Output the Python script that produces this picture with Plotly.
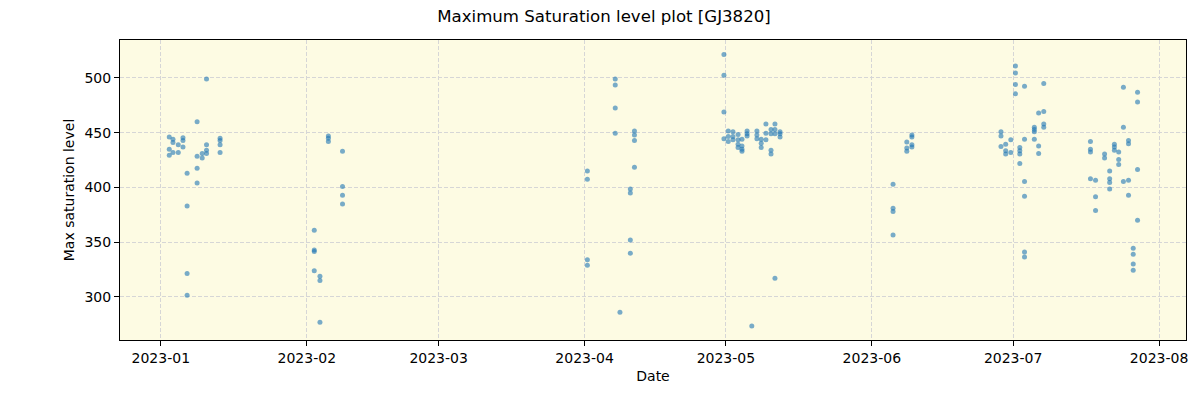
import plotly.graph_objects as go

dates = (
    ["2023-01-10 17:00", "2023-01-08 17:00", "2023-01-02 19:00", "2023-01-03 14:00", "2023-01-03 14:00",
     "2023-01-05 17:00", "2023-01-05 17:00", "2023-01-04 17:00", "2023-01-05 17:00", "2023-01-02 19:00",
     "2023-01-03 14:00", "2023-01-04 17:00", "2023-01-02 19:00", "2023-01-08 17:00", "2023-01-09 19:00",
     "2023-01-09 19:00", "2023-01-10 17:00", "2023-01-10 17:00", "2023-01-10 17:00", "2023-01-13 14:00",
     "2023-01-13 14:00", "2023-01-13 14:00", "2023-01-13 14:00", "2023-01-08 17:00", "2023-01-06 14:00",
     "2023-01-08 17:00", "2023-01-06 14:00", "2023-01-06 14:00", "2023-01-06 14:00"]
    + ["2023-02-08 14:00", "2023-02-08 14:00", "2023-02-08 14:00", "2023-02-08 14:00", "2023-02-02 14:00",
       "2023-02-02 14:00", "2023-02-02 14:00", "2023-02-02 14:00", "2023-02-03 19:00", "2023-02-03 19:00",
       "2023-02-03 19:00", "2023-02-05 14:00", "2023-02-05 14:00", "2023-02-05 14:00"]
    + ["2023-04-01 14:00", "2023-04-01 14:00", "2023-04-01 14:00", "2023-04-01 14:00", "2023-04-07 12:00",
       "2023-04-07 12:00", "2023-04-07 12:00", "2023-04-07 12:00", "2023-04-08 12:00", "2023-04-10 17:00",
       "2023-04-10 17:00", "2023-04-10 17:00", "2023-04-10 17:00", "2023-04-11 14:00", "2023-04-11 14:00",
       "2023-04-11 14:00", "2023-04-11 14:00"]
    + ["2023-04-30 14:00", "2023-04-30 14:00", "2023-04-30 14:00", "2023-04-30 14:00", "2023-05-01 12:00",
       "2023-05-01 12:00", "2023-05-01 12:00", "2023-05-02 12:00", "2023-05-02 12:00", "2023-05-02 12:00",
       "2023-05-03 14:00", "2023-05-03 14:00", "2023-05-03 14:00", "2023-05-03 14:00", "2023-05-04 10:00",
       "2023-05-04 10:00", "2023-05-04 10:00", "2023-05-04 10:00", "2023-05-05 12:00", "2023-05-05 12:00",
       "2023-05-05 12:00", "2023-05-07 14:00", "2023-05-07 14:00", "2023-05-07 14:00", "2023-05-08 12:00",
       "2023-05-08 12:00", "2023-05-08 12:00", "2023-05-09 12:00", "2023-05-09 12:00", "2023-05-09 12:00",
       "2023-05-10 14:00", "2023-05-10 14:00", "2023-05-10 14:00", "2023-05-10 14:00", "2023-05-11 10:00",
       "2023-05-11 10:00", "2023-05-11 10:00", "2023-05-11 10:00", "2023-05-12 12:00", "2023-05-12 12:00",
       "2023-05-12 12:00", "2023-05-06 12:00"]
    + ["2023-06-05 12:00", "2023-06-05 12:00", "2023-06-05 12:00", "2023-06-05 12:00", "2023-06-08 10:00",
       "2023-06-08 10:00", "2023-06-08 10:00", "2023-06-09 12:00", "2023-06-09 12:00", "2023-06-09 12:00",
       "2023-06-09 12:00"]
    + ["2023-06-28 10:00", "2023-06-28 10:00", "2023-06-28 10:00", "2023-06-29 10:00", "2023-06-29 10:00",
       "2023-06-29 10:00", "2023-06-30 12:00", "2023-06-30 12:00", "2023-07-01 12:00", "2023-07-01 12:00",
       "2023-07-01 12:00", "2023-07-01 12:00", "2023-07-02 10:00", "2023-07-02 10:00", "2023-07-02 10:00",
       "2023-07-02 10:00", "2023-07-03 10:00", "2023-07-03 10:00", "2023-07-03 10:00", "2023-07-03 10:00",
       "2023-07-03 10:00", "2023-07-03 10:00", "2023-07-05 12:00", "2023-07-05 12:00", "2023-07-05 12:00",
       "2023-07-05 12:00", "2023-07-06 10:00", "2023-07-06 10:00", "2023-07-06 10:00", "2023-07-07 12:00",
       "2023-07-07 12:00", "2023-07-07 12:00", "2023-07-07 12:00"]
    + ["2023-07-17 10:00", "2023-07-17 10:00", "2023-07-17 10:00", "2023-07-17 10:00", "2023-07-18 12:00",
       "2023-07-18 12:00", "2023-07-18 12:00", "2023-07-20 10:00", "2023-07-20 10:00", "2023-07-21 12:00",
       "2023-07-21 12:00", "2023-07-21 12:00", "2023-07-21 12:00", "2023-07-22 12:00", "2023-07-22 12:00",
       "2023-07-22 12:00", "2023-07-23 10:00", "2023-07-23 10:00", "2023-07-23 10:00", "2023-07-24 10:00",
       "2023-07-24 10:00", "2023-07-24 10:00", "2023-07-25 12:00", "2023-07-25 12:00", "2023-07-25 12:00",
       "2023-07-25 12:00", "2023-07-26 12:00", "2023-07-26 12:00", "2023-07-26 12:00", "2023-07-26 12:00",
       "2023-07-27 10:00", "2023-07-27 10:00", "2023-07-27 10:00", "2023-07-27 10:00"]
)

levels = (
    [499, 460, 446, 444, 441,
     445.5, 443, 439, 437, 435,
     432, 432, 429.5, 428.5, 431,
     427, 439, 434, 431, 445,
     443, 439, 432, 417.5, 413,
     404, 383, 321.5, 301.5]
    + [433, 401, 393, 385, 361,
       343, 341.5, 324, 319, 315,
       277, 447, 445, 442]
    + [415, 407.5, 334, 329, 499,
       493.5, 472.5, 449.5, 286, 398.5,
       395, 352, 340, 451.5, 448,
       443, 418.5]
    + [521.5, 502.5, 469, 444.5, 451.5,
       446.5, 442, 451, 446.5, 443.5,
       448.5, 443.5, 439.5, 436.5, 444,
       438, 435, 433, 451.5, 449,
       447, 451.5, 448, 444.5, 444,
       440.5, 436.5, 458, 449.5, 443.5,
       453, 449, 434, 430.5, 458,
       453, 449, 317, 451, 449,
       446, 273.5]
    + [403, 381, 378, 356.5, 441.5,
       436, 433, 448, 446, 439,
       437]
    + [451, 447, 437.5, 439.5, 433.5,
       430.5, 443.5, 432, 511, 504.5,
       494, 485.5, 436.5, 433.5, 430.5,
       422, 492.5, 444, 405.5, 392,
       341, 336.5, 455, 453, 451,
       444, 468, 438, 431, 495,
       469.5, 458, 455]
    + [442, 435, 432.5, 408, 406.5,
       391.5, 379, 430.5, 427, 415,
       408, 404.5, 398.5, 439.5, 437,
       434, 432.5, 425.5, 421, 491.5,
       455, 405.5, 443, 440, 406.5,
       393, 344.5, 339, 330, 324.5,
       487, 478, 416.5, 370]
)

fig = go.Figure()

fig.add_trace(
    go.Scatter(
        x=dates,
        y=levels,
        mode="markers",
        marker=dict(size=5, color="rgba(31,119,180,0.6)", line=dict(width=0)),
        name="max level",
    )
)

axis_style = dict(
    showline=True,
    linecolor="black",
    linewidth=1,
    mirror=True,
    ticks="outside",
    ticklen=5,
    tickcolor="black",
    showgrid=True,
    gridcolor="#d6d6d6",
    griddash="4px,2px",
    gridwidth=1,
    zeroline=False,
    tickfont=dict(size=14, color="black"),
    title_font=dict(size=14, color="black"),
)

fig.update_xaxes(
    title_text="Date",
    type="date",
    range=["2022-12-23 08:00", "2023-08-06 17:00"],
    dtick="M1",
    tick0="2023-01-01",
    tickformat="%Y-%m",
    title_standoff=6,
    **axis_style,
)

fig.update_yaxes(
    title_text="Max saturation level",
    range=[260.7, 534.7],
    dtick=50,
    title_standoff=6,
    **axis_style,
)

# the page puts the figure 8px in from the top-left corner
fig.update_layout(
    width=1192,
    height=392,
    showlegend=False,
    title=dict(
        text="Maximum Saturation level plot [GJ3820]",
        x=0.5,
        xanchor="center",
        y=0.979,
        yanchor="middle",
        font=dict(size=16.6, color="black"),
    ),
    font=dict(family="DejaVu Sans"),
    plot_bgcolor="#fdfbe3",
    paper_bgcolor="white",
    margin=dict(l=112, r=12, t=32, b=60),
)

fig.write_html("out.html")
